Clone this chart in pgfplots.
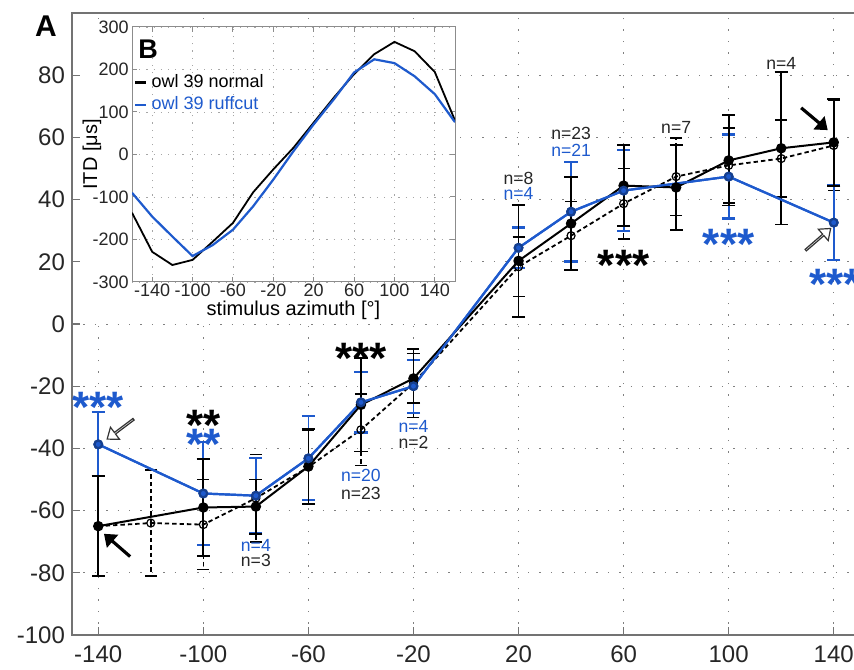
\documentclass[border=0pt]{standalone}
\usepackage{fontspec}
\setmainfont{Liberation Sans}
\usepackage{pgfplots}
\pgfplotsset{compat=1.18}
\usetikzlibrary{shapes.arrows}
\definecolor{rcblue}{RGB}{30,90,205}
\tikzset{
  nlab/.style={font=\fontsize{8.8}{10}\selectfont, inner sep=0pt},
  stars/.style={font=\fontsize{22}{22}\selectfont\bfseries, inner sep=0pt,
    anchor=base, yshift=-12.6pt},
  arr/.style={shape=single arrow, inner sep=0pt, minimum height=16.5pt,
    minimum width=7.5pt, single arrow head extend=2pt,
    single arrow tip angle=75, single arrow head indent=0pt, line width=0.6pt},
}

\begin{document}
\begin{tikzpicture}
% panel A
\begin{axis}[
  scale only axis, width=394pt, height=311pt,
  xmin=-150, xmax=150, ymin=-100, ymax=100,
  xtick={-140,-100,...,140}, ytick={-100,-80,...,80},
  grid=major,
  grid style={black!50, line width=0.5pt, dash pattern=on 0.7pt off 5pt},
  axis line style={black!55, line width=0.8pt},
  tick style={black!55, line width=0.6pt},
  major tick length=4pt, tick align=inside,
  xtick pos=bottom, ytick pos=left,
  ticklabel style={font=\fontsize{12}{14}\selectfont, text=black!85},
  xticklabel style={yshift=-2pt},
  /pgf/number format/assume math mode=true,
  clip=false,
]
% dashed (open circles)
\addplot[black, line width=0.9pt, dash pattern=on 2.2pt off 1.5pt,
  mark=o, mark size=2pt, mark options={solid, fill=white, line width=0.6pt},
  error bars/.cd, y dir=both, y explicit,
  error bar style={line width=0.8pt, dash pattern=on 2.2pt off 1.5pt},
  error mark options={rotate=90, solid, line width=0.8pt, mark size=3pt}]
coordinates {
  (-140,-65) +- (0,16)
  (-120,-64) +- (0,17)
  (-100,-64.5) +- (0,14.5)
  (-80,-56) +- (0,14)
  (-60,-46) +- (0,12)
  (-40,-34) +- (0,11.5)
  (-20,-19) +- (0,11)
  (20,18.4) +- (0,9.5)
  (40,28.4) +- (0,11)
  (60,38.7) +- (0,11.3)
  (80,47.4) +- (0,12.5)
  (100,51) +- (0,12)
  (120,53.2) +- (0,12.3)
  (140,57.4) +- (0,14.5)
};
% ruffcut (blue), error bars below the black ones
\addplot[rcblue, line width=1.1pt, mark=*, mark size=1.9pt,
  mark options={fill=rcblue, draw=rcblue!70!black},
  error bars/.cd, y dir=both, y explicit,
  error bar style={line width=0.9pt},
  error mark options={rotate=90, line width=1.1pt, mark size=3.3pt}]
coordinates {
  (-140,-38.7) +- (0,10.3)
  (-100,-54.5) +- (0,16.5)
  (-80,-55.2) +- (0,12)
  (-60,-43.2) +- (0,13.5)
  (-40,-25.2) +- (0,9.7)
  (-20,-20) +- (0,8.5)
  (20,24.5) +- (0,6.5)
  (40,36.1) +- (0,16)
  (60,42.9) +- (0,13)
  (100,47.4) +- (0,13.5)
  (140,32.6) +- (0,12)
};
% normal (filled black)
\addplot[black, line width=1pt, mark=*, mark size=2.1pt,
  error bars/.cd, y dir=both, y explicit,
  error bar style={line width=0.9pt},
  error mark options={rotate=90, line width=0.9pt, mark size=3.3pt}]
coordinates {
  (-140,-65) +- (0,16)
  (-100,-59) +- (0,15.7)
  (-80,-58.7) +- (0,8.7)
  (-60,-45.8) +- (0,12)
  (-40,-26) +- (0,15)
  (-20,-17.5) +- (0,8)
  (20,20.3) +- (0,18)
  (40,32.3) +- (0,15)
  (60,44.5) +- (0,13)
  (80,43.9) +- (0,13.7)
  (100,52.6) +- (0,14.5)
  (120,56.5) +- (0,24.5)
  (140,58.4) +- (0,14)
};
% ruffcut line again on top
\addplot[rcblue, line width=1.1pt, mark=*, mark size=1.9pt,
  mark options={fill=rcblue, draw=rcblue!70!black}, forget plot]
coordinates {
  (-140,-38.7) (-100,-54.5) (-80,-55.2) (-60,-43.2) (-40,-25.2) (-20,-20)
  (20,24.5) (40,36.1) (60,42.9) (100,47.4) (140,32.6)
};

% sample sizes
\node[nlab, black!85] at (axis cs:120,83.9) {n=4};
\node[nlab, black!85] at (axis cs:80,63.2) {n=7};
\node[nlab, black!85] at (axis cs:40,61.3) {n=23};
\node[nlab, rcblue] at (axis cs:40,55.8) {n=21};
\node[nlab, black!85] at (axis cs:20,46.8) {n=8};
\node[nlab, rcblue] at (axis cs:20,41.9) {n=4};
\node[nlab, rcblue] at (axis cs:-80,-71.2) {n=4};
\node[nlab, black!85] at (axis cs:-80,-76.0) {n=3};
\node[nlab, rcblue] at (axis cs:-40,-48.8) {n=20};
\node[nlab, black!85] at (axis cs:-40,-54.4) {n=23};
\node[nlab, rcblue] at (axis cs:-20,-32.9) {n=4};
\node[nlab, black!85] at (axis cs:-20,-38.2) {n=2};

% significance
\node[stars, black] at (axis cs:60,22) {***};
\node[stars, rcblue] at (axis cs:100,29) {***};
\node[stars, rcblue] at (axis cs:140.5,16.1) {***};
\node[stars, rcblue] at (axis cs:-140,-23.5) {***};
\node[stars, black] at (axis cs:-100,-29.5) {**};
\node[stars, rcblue] at (axis cs:-100,-35.5) {**};
\node[stars, black] at (axis cs:-40,-7.7) {***};

% arrows
\node[arr, fill=black, draw=black, rotate=-40] at (axis cs:132.4,66.1) {};
\node[arr, fill=white, draw=black!80, rotate=41] at (axis cs:133.9,27.1) {};
\node[arr, fill=white, draw=black!80, rotate=-143] at (axis cs:-131.4,-33.7) {};
\node[arr, fill=black, draw=black, rotate=139] at (axis cs:-132.6,-71.3) {};
\end{axis}

% panel B
\fill[white] (4pt,158.5pt) rectangle (194pt,308pt);
\begin{axis}[
  at={(30pt,176.5pt)}, anchor=south west,
  scale only axis, width=161.5pt, height=127.5pt,
  xmin=-160, xmax=160, ymin=-300, ymax=300,
  xtick={-140,-100,...,140}, ytick={-300,-200,...,300},
  grid=major,
  grid style={black!35, line width=0.4pt, dash pattern=on 0.6pt off 3pt},
  axis line style={black!45, line width=0.5pt},
  tick style={black!45, line width=0.5pt},
  major tick length=2.5pt, tick align=inside,
  ticklabel style={font=\fontsize{9}{10}\selectfont, text=black!85},
  xticklabel style={inner sep=1pt},
  yticklabel style={inner sep=1.5pt},
  /pgf/number format/assume math mode=true,
  label style={font=\fontsize{9}{11}\selectfont, text=black!85},
  every axis x label/.style={at={(axis description cs:0.5,-0.11)}, anchor=center},
  every axis y label/.style={at={(axis description cs:-0.124,0.5)}, rotate=90, anchor=center},
  xlabel={stimulus azimuth [°]}, ylabel={ITD [μs]},
  legend style={draw=none, fill=none, at={(0.005,0.83)}, anchor=north west,
    font=\fontsize{9}{10}\selectfont, inner sep=0pt, row sep=-1pt},
  legend cell align=left,
  legend image code/.code={\draw[#1, line width=1.3pt] (0pt,0pt) -- (5.5pt,0pt);},
]
\addplot[black, line width=0.9pt] coordinates {
  (-160,-137) (-140,-229) (-120,-260) (-100,-248) (-80,-205) (-60,-161)
  (-40,-89) (-20,-35) (0,16) (20,75) (40,134) (60,189) (80,236)
  (100,265) (120,243) (140,194) (160,80)
};
\addplot[rcblue, line width=1.1pt] coordinates {
  (-160,-90) (-140,-146) (-120,-193) (-100,-239) (-80,-213) (-60,-177)
  (-40,-122) (-20,-59) (0,8) (20,71) (40,130) (60,193) (80,224)
  (100,215) (120,184) (140,142) (160,76)
};
\legend{owl 39 normal, \textcolor{rcblue}{owl 39 ruffcut}}
\end{axis}

\node[font=\fontsize{15}{15}\selectfont\bfseries] at (-13pt,304.5pt) {A};
\node[font=\fontsize{13.5}{14}\selectfont\bfseries] at (38pt,293pt) {B};

\pgfresetboundingbox
\path[use as bounding box] (-36pt,-17pt) rectangle (391pt,317.5pt);
\end{tikzpicture}
\end{document}
